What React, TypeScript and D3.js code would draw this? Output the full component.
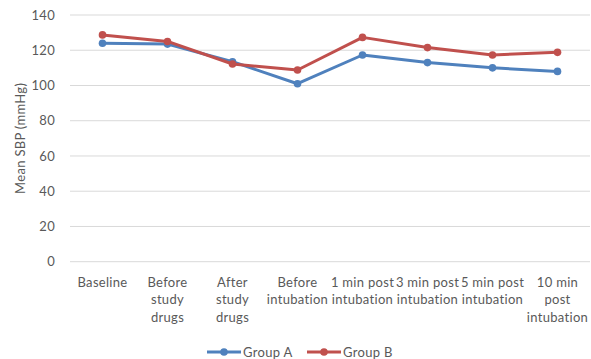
import React from "react";
import * as d3 from "d3";

const categories: string[][] = [
  ["Baseline"],
  ["Before", "study", "drugs"],
  ["After", "study", "drugs"],
  ["Before", "intubation"],
  ["1 min post", "intubation"],
  ["3 min post", "intubation"],
  ["5 min post", "intubation"],
  ["10 min", "post", "intubation"],
];
const groupA: number[] = [124, 123.5, 113.5, 101, 117.3, 113, 110, 108];
const groupB: number[] = [128.7, 125, 112.2, 108.8, 127.3, 121.5, 117.3, 118.8];
const yTicks: number[] = [0, 20, 40, 60, 80, 100, 120, 140];
const seriesNames: string[] = ["Group A", "Group B"];
const colors: string[] = ["#4F81BD", "#C0504D"];

const W = 591;
const H = 359;
const FONT = "Lato, 'Open Sans', sans-serif";
const FS = 13;
const LS = 0.3;

export default function App() {
  const x = d3
    .scaleBand<number>()
    .domain(categories.map((_, i) => i))
    .range([70, 590]);
  const y = d3.scaleLinear().domain([0, 140]).range([261.7, 15]);
  const cx = (i: number) => (x(i) ?? 0) + x.bandwidth() / 2;
  const line = d3
    .line<number>()
    .x((_, i) => cx(i))
    .y((d) => y(d));
  const series = [groupA, groupB];

  return (
    <svg
      width={W}
      height={H}
      style={{ position: "absolute", left: 0, top: 0, background: "#fff" }}
      fontFamily={FONT}
      letterSpacing={LS}
    >
      {yTicks.map((t) => (
        <g key={t}>
          <line x1={70} x2={590} y1={y(t)} y2={y(t)} stroke="#D9D9D9" strokeWidth={1} />
          <text x={55} y={y(t)} dy="0.35em" textAnchor="end" fontSize={FS} fill="#595959">
            {t}
          </text>
        </g>
      ))}
      <text
        transform={`translate(20,${y(70)}) rotate(-90)`}
        textAnchor="middle"
        dy="0.35em"
        fontSize={FS}
        fill="#595959"
      >
        Mean SBP  (mmHg)
      </text>
      {categories.map((lines, i) => (
        <text key={i} x={cx(i)} textAnchor="middle" fontSize={FS} fill="#595959">
          {lines.map((l, j) => (
            <tspan key={j} x={cx(i)} y={282 + j * 17.7} dy="0.35em">
              {l}
            </tspan>
          ))}
        </text>
      ))}
      {series.map((s, k) => (
        <g key={k}>
          <path d={line(s) ?? ""} fill="none" stroke={colors[k]} strokeWidth={3} strokeLinejoin="round" />
          {s.map((v, i) => (
            <circle key={i} cx={cx(i)} cy={y(v)} r={3.8} fill={colors[k]} />
          ))}
        </g>
      ))}
      {seriesNames.map((name, k) => {
        const x0 = k === 0 ? 207 : 307;
        return (
          <g key={name}>
            <line x1={x0} x2={x0 + 34} y1={352} y2={352} stroke={colors[k]} strokeWidth={3} />
            <circle cx={x0 + 17} cy={352} r={3.8} fill={colors[k]} />
            <text x={x0 + 36} y={352} dy="0.35em" fontSize={FS} fill="#595959">
              {name}
            </text>
          </g>
        );
      })}
    </svg>
  );
}
